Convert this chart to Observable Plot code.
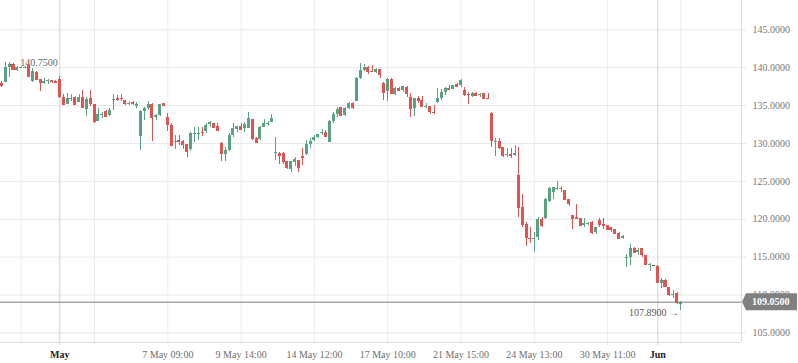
<!DOCTYPE html>
<html><head><meta charset="utf-8">
<script src="https://cdn.jsdelivr.net/npm/d3@7"></script>
<script src="https://cdn.jsdelivr.net/npm/@observablehq/plot@0.6"></script>
<style>
html,body{margin:0;padding:0;background:#fff;}
#chart svg{display:block;}
</style></head><body><div id="chart"></div>
<script>
// OHLC values, one entry per candle
const open = [
137.95,138.09,140.07,140.42,139.63,140.00,140.02,140.33,138.18,139.33,138.44,137.95,138.26,138.31,138.22,138.44,136.11,135.18,135.85,136.11,135.45,136.11,134.48,135.97,135.10,132.94,133.78,134.22,133.69,135.75,135.89,135.92,135.67,135.28,135.45,134.94,
130.96,134.26,134.65,135.14,133.39,133.69,135.23,133.39,132.37,130.13,130.33,130.30,129.86,129.16,131.22,131.24,131.50,131.62,132.46,132.67,132.24,130.03,128.54,129.07,131.05,131.80,132.24,132.01,132.01,133.16,130.61,130.48,132.15,132.64,132.73,
128.80,128.71,128.71,127.62,126.56,127.53,127.75,128.22,128.50,129.82,130.39,130.83,131.28,131.49,130.16,132.94,133.82,134.71,133.69,134.57,135.23,135.54,138.61,139.63,140.07,139.53,139.41,139.76,137.95,136.86,138.44,136.42,137.29,136.99,137.42,
136.03,134.65,135.97,135.67,134.86,134.88,134.15,135.37,135.97,136.77,137.29,137.12,137.74,137.65,136.99,136.48,136.24,136.55,136.44,136.63,136.00,133.99,130.22,130.26,129.43,128.47,128.52,128.41,125.77,121.59,119.30,117.45,117.40,117.63,120.00,
120.05,122.34,123.49,123.98,124.05,123.79,122.60,120.49,120.20,120.05,119.17,119.36,119.60,118.28,119.83,119.26,119.17,118.87,118.64,118.15,117.41,114.95,114.99,116.17,115.65,116.17,115.21,113.95,113.87,113.80,111.47,111.91,111.03,109.99,110.15,108.80];
const high = [
138.18,140.65,140.75,140.50,140.16,140.15,140.20,140.50,139.85,139.50,138.50,138.53,138.44,138.35,138.25,138.88,136.46,136.63,136.42,136.20,136.46,136.99,136.03,136.99,135.15,134.57,134.13,134.35,134.57,136.46,136.30,136.42,135.70,135.54,135.58,135.47,
134.30,134.79,135.54,135.23,133.82,135.20,135.25,133.99,132.59,131.05,131.05,130.35,129.90,131.40,132.15,132.07,132.11,132.67,132.94,132.70,132.59,130.16,129.51,131.27,132.59,132.30,132.59,132.81,134.13,133.20,130.83,132.20,133.16,132.94,133.82,
130.83,128.75,128.75,127.65,127.65,128.19,127.80,129.29,130.39,130.69,131.05,131.20,131.84,131.71,133.00,134.05,134.79,134.79,134.71,135.45,135.45,138.75,140.51,140.38,140.10,140.29,139.93,139.80,138.00,138.61,138.53,137.35,137.42,137.55,137.52,
136.63,135.95,136.20,136.20,135.23,134.90,135.00,137.21,137.08,137.42,137.65,137.70,137.95,138.44,137.35,136.77,136.77,136.77,136.63,136.66,136.63,134.13,130.61,130.61,129.45,129.37,129.29,129.73,129.43,123.26,119.60,118.94,118.28,120.26,120.26,
122.77,124.23,124.20,124.98,124.32,123.82,122.65,120.52,121.94,120.10,120.05,119.60,119.65,118.94,120.05,120.05,119.20,118.90,118.70,118.20,117.85,115.30,116.62,116.30,116.09,116.20,115.25,114.10,113.90,113.89,112.13,112.00,111.05,110.59,110.30,109.10];
const low = [
137.35,138.01,138.75,139.60,139.50,139.95,139.98,138.80,138.09,138.31,136.90,137.78,137.78,137.91,138.00,135.89,135.15,135.15,135.58,135.10,135.40,134.57,133.60,134.92,132.67,132.90,133.25,133.43,133.60,134.35,135.58,135.58,135.00,135.00,135.00,134.57,
129.07,133.03,134.35,130.30,133.03,133.60,134.88,131.62,129.60,129.20,129.73,129.20,128.19,128.94,130.16,130.39,130.92,131.28,132.15,132.10,131.62,127.66,127.66,128.98,130.83,131.49,131.80,131.49,131.93,130.39,129.95,130.39,132.07,132.24,132.72,
127.75,127.18,127.18,126.56,126.13,127.00,126.13,127.09,128.45,129.29,130.26,130.69,131.05,130.90,130.10,132.67,133.47,133.56,133.56,134.48,134.48,135.50,138.44,139.54,139.10,139.40,139.20,138.61,135.67,135.58,136.42,136.33,136.90,136.77,136.11,
133.47,133.60,135.23,134.88,134.57,133.82,133.82,135.33,135.67,136.33,136.99,137.08,137.42,137.35,136.24,135.14,136.03,136.20,136.03,135.95,135.90,129.51,128.28,129.16,128.11,128.19,127.97,128.28,120.19,118.94,116.44,116.75,115.65,117.19,118.94,
119.96,122.25,122.60,123.79,123.57,122.47,121.72,118.60,120.05,119.08,118.94,119.17,117.98,117.98,118.94,118.64,118.51,118.28,117.94,117.32,117.28,113.66,113.89,115.57,115.21,114.99,113.89,113.10,113.85,111.47,110.89,111.03,109.84,109.49,108.70,107.89];
const close = [
137.65,140.07,140.42,139.72,139.99,140.07,140.08,138.84,139.54,138.44,138.01,138.22,138.31,138.18,138.09,136.24,135.18,135.97,135.90,135.18,136.11,134.75,135.80,135.31,132.94,133.82,133.84,133.60,134.35,135.80,135.76,135.87,135.23,135.33,135.23,135.08,
134.22,134.65,135.14,133.46,133.69,135.14,135.00,132.46,129.73,130.20,130.28,129.86,128.94,131.35,131.28,131.30,131.45,132.37,132.81,132.15,131.71,128.71,129.07,131.05,132.01,132.24,131.84,132.46,133.33,130.61,130.17,132.15,132.67,132.70,133.25,
128.85,128.41,127.62,126.87,127.62,127.84,126.87,128.17,129.82,130.30,130.83,131.14,131.49,130.96,132.94,133.82,134.48,133.69,134.57,135.31,134.79,138.53,139.63,140.07,139.50,139.48,139.76,139.10,136.77,138.44,136.63,137.21,136.99,137.52,136.55,
134.65,135.89,135.67,134.92,134.92,134.22,134.10,135.89,136.69,137.21,137.12,137.65,137.56,138.31,136.46,136.44,136.63,136.33,136.50,135.97,135.95,130.39,130.28,129.43,128.41,128.52,128.47,128.63,121.59,119.30,117.63,117.40,117.45,119.92,119.17,
122.60,124.01,124.15,124.04,124.00,122.60,122.03,120.13,120.15,119.17,119.47,119.42,118.28,118.87,119.26,119.17,118.64,118.64,118.07,117.41,117.72,115.00,116.17,115.65,115.87,115.30,113.98,114.00,113.87,111.61,111.91,111.16,110.02,110.05,109.04,109.05];

// x axis (candle index) ticks and labels
const tickIndex  = [5, 24, 43, 62, 81, 100, 119, 138, 157, 176];
const tickLabels = ["", "", "7 May 09:00", "9 May 14:00", "14 May 12:00", "17 May 10:00", "21 May 15:00", "24 May 13:00", "30 May 11:00", ""];
const monthIndex  = [15, 170];
const monthLabels = ["May", "Jun"];
// y axis ticks
const priceTicks = [105, 110, 115, 120, 125, 130, 135, 140, 145];
const lastPrice = 109.05;

const GREEN = "#57a381", RED = "#e05350", DOJI = "#555";
const candles = open.map((o, i) => ({i, open: o, high: high[i], low: low[i], close: close[i]}));
const colorOf = d => d.close > d.open ? GREEN : d.close < d.open ? RED : DOJI;
const fmt = d3.format(".4f");
const maxIdx = d3.maxIndex(high), minIdx = d3.minIndex(low);
const xDomain = [-0.37, 191.7];
const yDomain = [103.73, 148.87];

const chart = Plot.plot({
  width: 798, height: 363,
  marginLeft: 0, marginRight: 57, marginTop: 0, marginBottom: 21,
  style: {fontFamily: "'Liberation Serif', 'Times New Roman', serif", fontSize: "10px", background: "#fff", overflow: "visible"},
  x: {type: "linear", domain: xDomain},
  y: {domain: yDomain},
  marks: [
    Plot.gridY(priceTicks, {stroke: "#e8e8e8", strokeOpacity: 1}),
    Plot.gridX(tickIndex, {stroke: "#ececec", strokeOpacity: 1}),
    Plot.gridX(monthIndex, {stroke: "#d2d2d2", strokeOpacity: 1}),
    Plot.axisY(priceTicks, {anchor: "right", tickSize: 4, tickPadding: 7, stroke: "#e8e8e8", fill: "#777", tickFormat: fmt, label: null}),
    Plot.axisX(tickIndex, {anchor: "bottom", tickSize: 3, tickPadding: 5.5, stroke: "#ececec", fill: "#6e6e6e", tickFormat: d => tickLabels[tickIndex.indexOf(d)], label: null}),
    Plot.axisX(monthIndex, {anchor: "bottom", tickSize: 3, tickPadding: 5.5, stroke: "#d2d2d2", fill: "#222", fontWeight: "bold", tickFormat: d => monthLabels[monthIndex.indexOf(d)], label: null}),
    Plot.ruleX([xDomain[1]], {stroke: "#dcdcdc"}),
    Plot.ruleY([yDomain[0]], {stroke: "#dcdcdc"}),
    Plot.ruleX(candles, {x: "i", y1: "low", y2: "high", stroke: colorOf, strokeWidth: 1, shapeRendering: "crispEdges"}),
    Plot.rect(candles, {x1: d => d.i - 0.39, x2: d => d.i + 0.39, y1: "open", y2: "close", fill: colorOf, shapeRendering: "crispEdges"}),
    Plot.ruleY(candles, {x1: d => d.i - 0.39, x2: d => d.i + 0.39, y: "close", stroke: colorOf, shapeRendering: "crispEdges"}),
    Plot.ruleY([lastPrice], {stroke: "#7a7a7a", strokeWidth: 1}),
    Plot.text([maxIdx], {x: d => d, y: d => high[d], text: d => "\u2190 " + fmt(high[d]), textAnchor: "start", dx: -2, dy: 1, fill: "#666"}),
    Plot.text([minIdx], {x: d => d, y: d => low[d], text: d => fmt(low[d]) + " \u2192", textAnchor: "end", dx: -2, dy: 2, fill: "#555"})
  ]
});

// current price label box on the right axis, positioned with Plot's own scales
const ys = chart.scale("y"), xs = chart.scale("x");
const py = ys.apply(lastPrice), px = xs.apply(xDomain[1]);
const svg = d3.select(chart);
const g = svg.append("g");
g.append("path")
  .attr("d", `M${px + 1},${py} L${px + 5},${py - 8.5} L797,${py - 8.5} L797,${py + 8.5} L${px + 5},${py + 8.5} Z`)
  .attr("fill", "#808080");
g.append("text")
  .attr("x", px + 11).attr("y", py).attr("dy", "0.35em")
  .attr("text-anchor", "start")
  .attr("fill", "#fff").attr("font-weight", "bold")
  .attr("font-family", "'Liberation Serif', serif").attr("font-size", 10)
  .text(fmt(lastPrice));

document.getElementById("chart").appendChild(chart);
</script>
</body></html>
